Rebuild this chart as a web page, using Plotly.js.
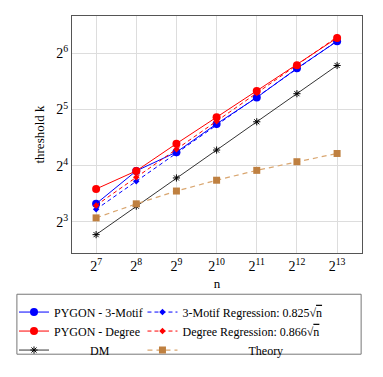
<!DOCTYPE html>
<html lang="en">
<head>
    <meta charset="UTF-8">
    <title>threshold k vs n</title>
    <script src="https://cdn.plot.ly/plotly-3.0.1.min.js"></script>
    <style>
        body { margin: 0; background: white; }
        #plot { width: 383px; height: 377px; }
    </style>
</head>
<body>
<div id="plot"></div>
<script>
    // graph sizes n
    var nValues = [128, 256, 512, 1024, 2048, 4096, 8192];
    var xTickText = ['2<sup>7</sup>', '2<sup>8</sup>', '2<sup>9</sup>', '2<sup>10</sup>', '2<sup>11</sup>', '2<sup>12</sup>', '2<sup>13</sup>'];
    var yTickVals = [8, 16, 32, 64];
    var yTickText = ['2<sup>3</sup>', '2<sup>4</sup>', '2<sup>5</sup>', '2<sup>6</sup>'];

    // values
    var motif = [10.0, 15.0, 18.9, 26.8, 37.1, 53.2, 74.3];
    var motifReg = [9.33, 13.2, 18.67, 26.4, 37.3, 52.8, 74.7];
    var degree = [12.0, 15.0, 21.0, 29.1, 40.2, 55.3, 77.4];
    var degreeReg = [9.80, 13.86, 19.6, 27.7, 39.2, 55.4, 78.4];
    var dm = [6.83, 9.71, 13.75, 19.4, 27.5, 38.9, 55.1];
    var theory = [8.40, 9.99, 11.7, 13.37, 15.1, 16.8, 18.6];

    var log2 = Math.log10(2);
    // nbsp padding so the short names sit centred like the original legend
    var nb = function(k) { return '\u00a0'.repeat(k); };

    var traces = [
        {
            x: nValues, y: motif, name: 'PYGON - 3-Motif', legend: 'legend',
            mode: 'lines+markers', line: {color: '#0000ff', width: 1},
            marker: {color: '#0000ff', size: 8, symbol: 'circle'}
        },
        {
            x: nValues, y: motifReg, name: '3-Motif Regression: 0.825√<span style="text-decoration:overline">n</span>',
            legend: 'legend2',
            mode: 'lines+markers', line: {color: '#0000ff', width: 1, dash: '4px,3px'},
            marker: {color: '#0000ff', size: 5, symbol: 'diamond'}
        },
        {
            x: nValues, y: degree, name: 'PYGON - Degree', legend: 'legend',
            mode: 'lines+markers', line: {color: '#ff0000', width: 1},
            marker: {color: '#ff0000', size: 8, symbol: 'circle'}
        },
        {
            x: nValues, y: degreeReg, name: 'Degree Regression: 0.866√<span style="text-decoration:overline">n</span>',
            legend: 'legend2',
            mode: 'lines+markers', line: {color: '#ff0000', width: 1, dash: '4px,3px'},
            marker: {color: '#ff0000', size: 5, symbol: 'diamond'}
        },
        {
            x: nValues, y: dm, name: nb(12) + 'DM', legend: 'legend',
            mode: 'lines+markers', line: {color: '#000000', width: 0.8},
            marker: {color: '#000000', size: 6, symbol: 'asterisk-open', line: {color: '#000000', width: 1}}
        },
        {
            x: nValues, y: theory, name: nb(22) + 'Theory', legend: 'legend2',
            mode: 'lines+markers', line: {color: '#d9a670', width: 1.2, dash: '5px,4px'},
            marker: {color: '#bf8040', size: 7, symbol: 'square'}
        }
    ];

    var legendBase = {
        orientation: 'v',
        xanchor: 'left',
        yanchor: 'top',
        bgcolor: 'rgba(0,0,0,0)',
        borderwidth: 0,
        font: {family: 'Liberation Serif, serif', size: 12},
        itemwidth: 30,
        tracegroupgap: 0
    };

    var layout = {
        width: 383,
        height: 377,
        margin: {l: 72, r: 21, t: 16, b: 120},
        paper_bgcolor: 'white',
        plot_bgcolor: 'white',
        font: {family: 'Liberation Serif, serif', size: 12, color: '#000'},
        showlegend: true,
        xaxis: {
            type: 'log',
            range: [6.4 * log2, 13.62 * log2],
            tickvals: nValues,
            ticktext: xTickText,
            tickfont: {size: 14},
            showgrid: true,
            gridcolor: '#dddddd',
            zeroline: false,
            showline: true,
            mirror: true,
            linecolor: '#555',
            linewidth: 1,
            ticks: '',
            automargin: false,
            title: {text: 'n', font: {size: 13}, standoff: 6}
        },
        yaxis: {
            type: 'log',
            range: [2.445 * log2, 6.665 * log2],
            tickvals: yTickVals,
            ticktext: yTickText,
            tickfont: {size: 14},
            showgrid: true,
            gridcolor: '#dddddd',
            zeroline: false,
            showline: true,
            mirror: true,
            linecolor: '#555',
            linewidth: 1,
            ticks: '',
            automargin: false,
            title: {text: 'threshold k', font: {size: 13}, standoff: 8}
        },
        legend: Object.assign({}, legendBase, {x: -0.2, y: -0.188}),
        legend2: Object.assign({}, legendBase, {x: 0.243, y: -0.188}),
        shapes: [{
            type: 'rect', xref: 'paper', yref: 'paper',
            x0: -0.19, x1: 0.997, y0: -0.174, y1: -0.427,
            line: {color: '#777', width: 1}, layer: 'below'
        }]
    };

    Plotly.newPlot('plot', traces, layout, {displayModeBar: false, staticPlot: true});
</script>
</body>
</html>
